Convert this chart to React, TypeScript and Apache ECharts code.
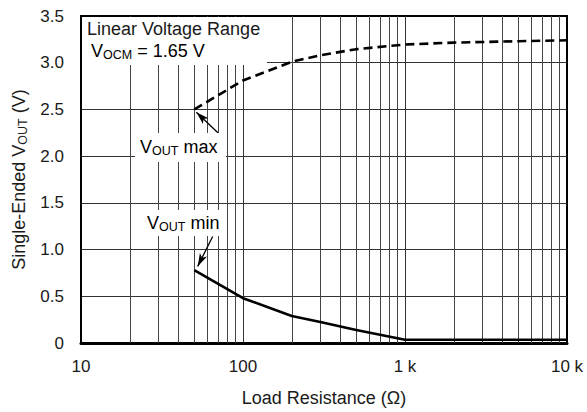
import React, { useEffect, useRef } from "react";
import * as echarts from "echarts";

const resistance = [50, 100, 200, 300, 500, 1000, 2000, 5000, 10000];
const voutMax = [2.5, 2.81, 3.01, 3.08, 3.145, 3.195, 3.215, 3.23, 3.24];
const voutMin = [0.78, 0.48, 0.29, 0.225, 0.14, 0.035, 0.035, 0.035, 0.035];
const minorGrid = [20, 30, 40, 50, 60, 70, 80, 90, 200, 300, 400, 500, 600, 700, 800, 900, 2000, 3000, 4000, 5000, 6000, 7000, 8000, 9000];
const yTicks = [0, 0.5, 1, 1.5, 2, 2.5, 3, 3.5];

const FONT = "Liberation Sans, Arial, Helvetica, sans-serif";
const TXT = "#1a1a1a";

export default function App() {
  const ref = useRef<HTMLDivElement>(null);
  useEffect(() => {
    if (!ref.current) return;
    const chart = echarts.init(ref.current, null, { renderer: "svg" });
    const subRich = {
      v: { fontSize: 18, fontFamily: FONT, color: TXT, lineHeight: 21 },
      s: { fontSize: 12.5, fontFamily: FONT, color: TXT, lineHeight: 8, verticalAlign: "bottom" },
    };
    chart.setOption({
      animation: false,
      textStyle: { fontFamily: FONT },
      grid: {
        left: 81,
        right: 20,
        top: 16,
        bottom: 68,
        show: true,
        borderColor: "#000",
        borderWidth: 2,
        backgroundColor: "#fff",
      },
      xAxis: {
        type: "log",
        logBase: 10,
        min: 10,
        max: 10000,
        name: "Load Resistance (Ω)",
        nameLocation: "middle",
        nameGap: 46,
        nameTextStyle: { fontSize: 18, color: TXT, fontFamily: FONT },
        axisLine: { show: true, lineStyle: { color: "#000", width: 3 } },
        axisTick: { show: false },
        axisLabel: {
          fontSize: 17,
          color: TXT,
          margin: 15,
          fontFamily: FONT,
          formatter: (v: number) => (v >= 1000 ? `${v / 1000} k` : `${v}`),
        },
        splitLine: { show: true, showMinLine: false, showMaxLine: false, lineStyle: { color: "#333", width: 1 } },
      },
      yAxis: {
        type: "value",
        min: 0,
        max: 3.5,
        interval: 0.5,
        name: "{v|Single-Ended V}{s|OUT}{v| (V)}",
        nameLocation: "middle",
        nameGap: 52,
        nameTextStyle: { rich: subRich },
        axisLine: { show: true, lineStyle: { color: "#000", width: 2 } },
        axisTick: { show: false },
        axisLabel: {
          fontSize: 17,
          color: TXT,
          margin: 17,
          fontFamily: FONT,
          formatter: (v: number) => (yTicks.indexOf(v) >= 0 && v !== 0 ? v.toFixed(1) : `${v}`),
        },
        splitLine: { show: true, showMinLine: false, showMaxLine: false, lineStyle: { color: "#333", width: 1 } },
      },
      series: [
        {
          type: "line",
          data: [],
          z: 1,
          silent: true,
          markLine: {
            silent: true,
            symbol: ["none", "none"],
            label: { show: false },
            lineStyle: { color: "#444", width: 1, type: "solid" },
            emphasis: { disabled: true },
            data: minorGrid.map((x) => ({ xAxis: x })),
          },
        },
        {
          name: "VOUT max",
          type: "line",
          z: 5,
          data: resistance.map((r, i) => [r, voutMax[i]]),
          showSymbol: false,
          lineStyle: { color: "#000", width: 2.6, type: [9, 5] },
          markLine: {
            silent: true,
            symbol: ["none", "arrow"],
            symbolSize: [6, 13],
            label: { show: false },
            lineStyle: { color: "#000", width: 1.3, type: "solid" },
            emphasis: { disabled: true },
            data: [[{ coord: [70, 2.25] }, { coord: [51.5, 2.47] }]],
          },
        },
        {
          name: "VOUT min",
          type: "line",
          z: 5,
          data: resistance.map((r, i) => [r, voutMin[i]]),
          showSymbol: false,
          lineStyle: { color: "#000", width: 2.6 },
          markLine: {
            silent: true,
            symbol: ["none", "arrow"],
            symbolSize: [6, 13],
            label: { show: false },
            lineStyle: { color: "#000", width: 1.3, type: "solid" },
            emphasis: { disabled: true },
            data: [[{ coord: [65, 1.14] }, { coord: [52.5, 0.82] }]],
          },
        },
      ],
      graphic: [
        { type: "rect", z: 100, shape: { x: 82, y: 17, width: 185, height: 48 }, style: { fill: "#fff" } },
        {
          type: "text",
          z: 101,
          x: 87,
          y: 29,
          style: { text: "Linear Voltage Range", fontSize: 18, fontFamily: FONT, fill: TXT, verticalAlign: "middle" },
        },
        {
          type: "text",
          z: 101,
          x: 91,
          y: 51,
          style: { text: "{v|V}{s|OCM}{v| = 1.65 V}", rich: subRich, verticalAlign: "middle" },
        },
        { type: "rect", z: 100, shape: { x: 135, y: 133, width: 91, height: 29 }, style: { fill: "#fff" } },
        {
          type: "text",
          z: 101,
          x: 140,
          y: 147,
          style: { text: "{v|V}{s|OUT}{v| max}", rich: subRich, verticalAlign: "middle" },
        },
        { type: "rect", z: 100, shape: { x: 141, y: 210, width: 85, height: 26 }, style: { fill: "#fff" } },
        {
          type: "text",
          z: 101,
          x: 147,
          y: 223,
          style: { text: "{v|V}{s|OUT}{v| min}", rich: subRich, verticalAlign: "middle" },
        },
      ],
    });
    return () => chart.dispose();
  }, []);
  return (
    <div
      ref={ref}
      style={{ position: "fixed", left: 0, top: 0, width: 587, height: 412, background: "#fff" }}
    />
  );
}
